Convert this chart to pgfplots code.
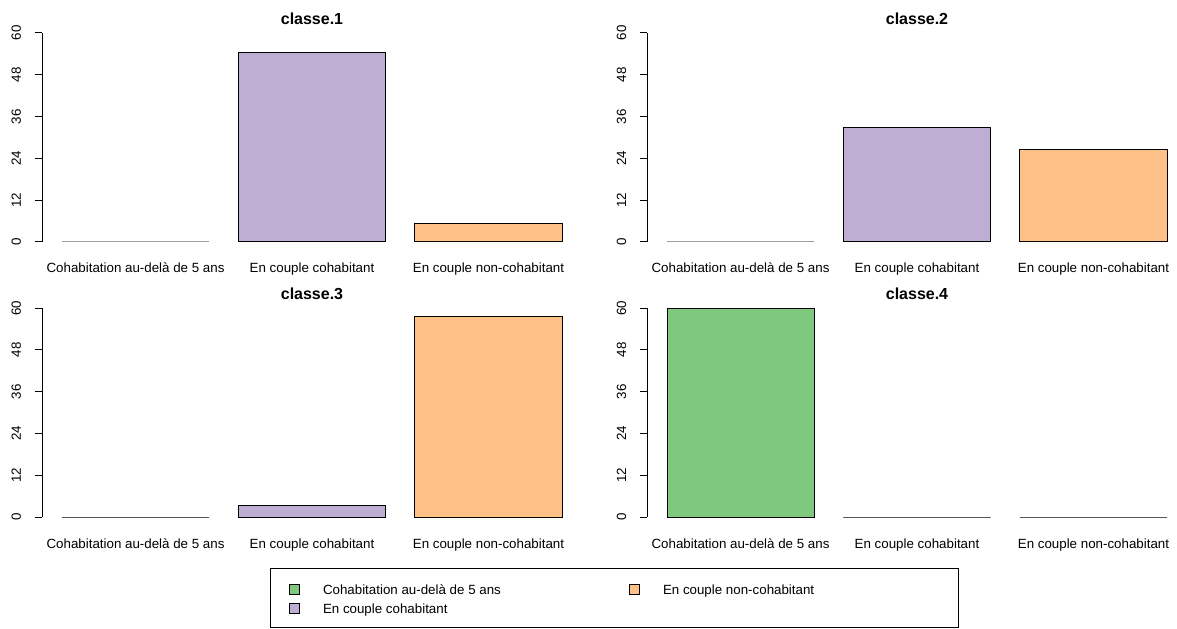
\documentclass[border=0pt]{standalone}
\usepackage{pgfplots}
\pgfplotsset{compat=1.18}
\usepackage{fontspec}
\setmainfont{Liberation Sans}
\definecolor{cgreen}{HTML}{7FC97F}
\definecolor{cpurple}{HTML}{BEAED4}
\definecolor{corange}{HTML}{FDC086}
\pgfplotsset{
  panel/.style={
    scale only axis, width=405pt, height=156.75pt,
    anchor=south west,
    xmin=0.064, xmax=3.736, ymin=0, ymax=60,
    axis y line*=left, axis x line*=bottom,
    x axis line style={draw=none},
    y axis line style={line width=0.75pt, black},
    xtick={0.7,1.9,3.1},
    xticklabels={Cohabitation au-delà de 5 ans, En couple cohabitant, En couple non-cohabitant},
    xtick style={draw=none},
    ytick={0,12,24,36,48,60},
    ytick style={line width=0.75pt, black},
    tick align=outside, major tick length=5.25pt,
    /pgf/number format/assume math mode=true,
    ticklabel style={font=\fontsize{10}{12}\selectfont},
    yticklabel style={xshift=-10.5pt, rotate=90, anchor=base},
    xticklabel style={anchor=base, yshift=-18pt},
    ybar, bar width=1,
    clip=false,
    title style={font=\bfseries\fontsize{12}{14}\selectfont, at={(0.5,1)}, anchor=base, yshift=0.5pt},
    every axis plot/.append style={draw=black, line width=0.75pt, bar shift=0pt},
    legend image code/.code={\draw[##1, draw=black, line width=0.75pt] (0pt,-0.2pt) rectangle (7.5pt,7.3pt);},
  }
}
\begin{document}
\begin{tikzpicture}
\useasboundingbox (0,0) rectangle (882.75pt,471pt);
\begin{axis}[panel, at={(31.5pt,289.5pt)}, title={classe.1}]
\addplot[fill=cgreen] coordinates {(0.7,0)};
\addplot[fill=cpurple] coordinates {(1.9,54.5)};
\addplot[fill=corange] coordinates {(3.1,5.2)};
\end{axis}
\begin{axis}[panel, at={(485.25pt,289.5pt)}, title={classe.2}]
\addplot[fill=cgreen] coordinates {(0.7,0)};
\addplot[fill=cpurple] coordinates {(1.9,33)};
\addplot[fill=corange] coordinates {(3.1,26.6)};
\end{axis}
\begin{axis}[panel, at={(31.5pt,83.25pt)}, title={classe.3},
  legend columns=2,
  legend style={at={(1.05926,-0.24402)}, anchor=north, draw=black, line width=0.75pt,
    inner xsep=14.25pt, inner ysep=10.125pt, row sep=4.5pt,
    font=\fontsize{10}{12}\selectfont,
    nodes={inner sep=0pt, anchor=base west, text height=9pt, text depth=0.75pt},
    /tikz/every odd column/.append style={column sep=17.25pt},
    /tikz/every even column/.append style={column sep=0pt}},
  ]
\addplot[fill=cgreen] coordinates {(0.7,0)};
\addlegendentry{\makebox[229.5pt][l]{Cohabitation au-delà de 5 ans}}
\addplot[fill=corange] coordinates {(3.1,57.6)};
\addlegendentry{\makebox[207pt][l]{En couple non-cohabitant}}
\addplot[fill=cpurple] coordinates {(1.9,3.2)};
\addlegendentry{\makebox[229.5pt][l]{En couple cohabitant}}
\end{axis}
\begin{axis}[panel, at={(485.25pt,83.25pt)}, title={classe.4}]
\addplot[fill=cgreen] coordinates {(0.7,60)};
\addplot[fill=cpurple] coordinates {(1.9,0)};
\addplot[fill=corange] coordinates {(3.1,0)};
\end{axis}
\end{tikzpicture}
\end{document}
